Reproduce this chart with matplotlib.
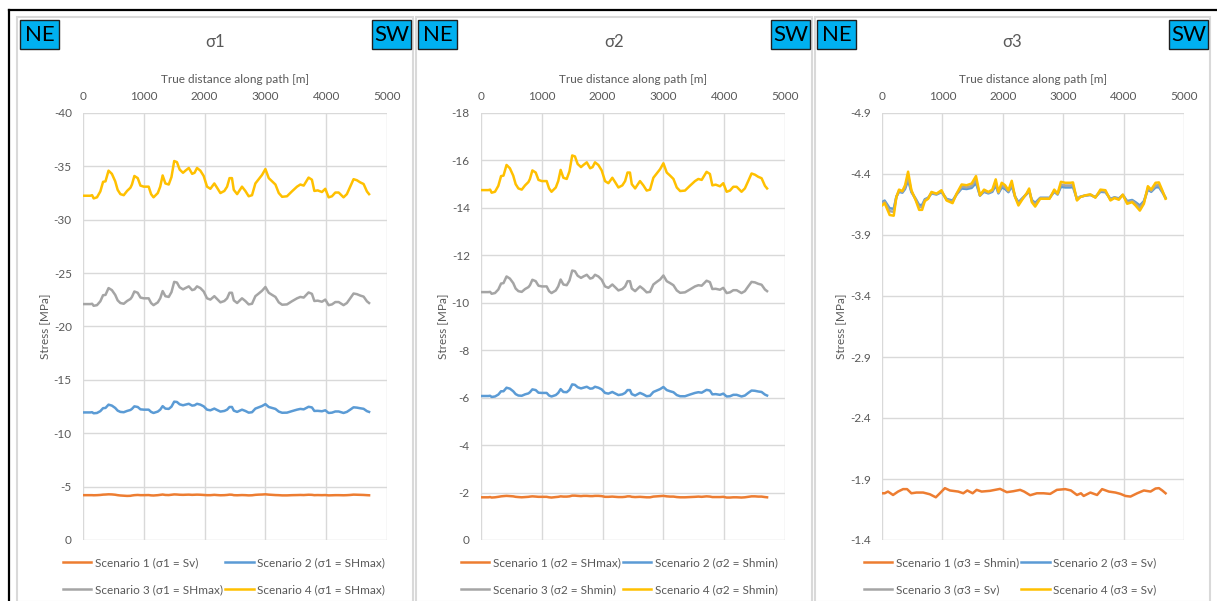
import matplotlib
matplotlib.use("Agg")
import matplotlib.pyplot as plt
from matplotlib.patches import Rectangle
from matplotlib.lines import Line2D

plt.rcParams['font.family'] = ['Lato', 'DejaVu Sans']

# ---------------- data ----------------
dist = [0,120,150,175,230,285,330,370,420,475,
        530,570,615,670,725,780,805,845,900,945,
        1000,1080,1120,1160,1230,1270,1310,1355,1410,1455,
        1500,1545,1590,1645,1685,1740,1795,1835,1875,1930,
        1985,2040,2095,2160,2205,2260,2325,2370,2410,2450,
        2480,2535,2615,2670,2725,2780,2835,2890,2945,3000,
        3055,3110,3165,3220,3275,3355,3435,3520,3575,3630,
        3710,3765,3805,3860,3930,3985,4040,4095,4150,4205,
        4285,4340,4395,4450,4505,4560,4615,4670,4705]

s1_sc1 = [-4.2,-4.2,-4.2,-4.19,-4.2,-4.22,-4.25,-4.26,-4.28,-4.27,
          -4.24,-4.2,-4.17,-4.15,-4.13,-4.14,-4.17,-4.2,-4.22,-4.2,
          -4.2,-4.21,-4.18,-4.17,-4.2,-4.23,-4.26,-4.22,-4.21,-4.24,
          -4.27,-4.26,-4.24,-4.23,-4.24,-4.25,-4.23,-4.24,-4.25,-4.24,
          -4.22,-4.2,-4.2,-4.23,-4.21,-4.19,-4.2,-4.22,-4.25,-4.24,
          -4.2,-4.19,-4.21,-4.2,-4.18,-4.19,-4.23,-4.25,-4.26,-4.28,
          -4.25,-4.23,-4.21,-4.2,-4.18,-4.18,-4.2,-4.21,-4.22,-4.21,
          -4.24,-4.23,-4.2,-4.21,-4.2,-4.21,-4.18,-4.19,-4.2,-4.2,
          -4.19,-4.2,-4.22,-4.25,-4.24,-4.23,-4.22,-4.2,-4.19]
s1_sc2 = [-11.95,-11.95,-11.97,-11.87,-11.9,-12.07,-12.35,-12.37,-12.68,-12.59,
          -12.37,-12.12,-12.0,-11.97,-12.09,-12.18,-12.28,-12.52,-12.46,-12.24,
          -12.21,-12.21,-12.0,-11.9,-12.03,-12.21,-12.54,-12.31,-12.28,-12.49,
          -12.96,-12.93,-12.71,-12.62,-12.68,-12.76,-12.59,-12.62,-12.76,-12.68,
          -12.52,-12.21,-12.15,-12.31,-12.18,-12.03,-12.09,-12.21,-12.46,-12.46,
          -12.12,-12.0,-12.21,-12.09,-11.93,-11.97,-12.31,-12.43,-12.55,-12.73,
          -12.46,-12.37,-12.28,-12.03,-11.92,-11.93,-12.07,-12.21,-12.28,-12.24,
          -12.48,-12.42,-12.09,-12.1,-12.06,-12.15,-11.9,-11.93,-12.04,-12.04,
          -11.9,-12.0,-12.21,-12.43,-12.4,-12.34,-12.29,-12.07,-12.0]
s1_sc3 = [-22.1,-22.1,-22.13,-21.94,-22.0,-22.36,-22.93,-22.96,-23.6,-23.41,
          -22.96,-22.45,-22.2,-22.13,-22.39,-22.58,-22.77,-23.28,-23.16,-22.71,
          -22.64,-22.64,-22.2,-22.0,-22.26,-22.64,-23.32,-22.84,-22.77,-23.22,
          -24.18,-24.12,-23.67,-23.48,-23.6,-23.76,-23.41,-23.48,-23.76,-23.6,
          -23.28,-22.64,-22.52,-22.84,-22.58,-22.26,-22.39,-22.64,-23.16,-23.16,
          -22.45,-22.2,-22.64,-22.39,-22.07,-22.13,-22.84,-23.09,-23.35,-23.7,
          -23.16,-22.96,-22.77,-22.26,-22.04,-22.07,-22.36,-22.64,-22.77,-22.71,
          -23.19,-23.06,-22.39,-22.42,-22.32,-22.52,-22.0,-22.07,-22.29,-22.29,
          -22.0,-22.2,-22.64,-23.09,-23.03,-22.9,-22.8,-22.36,-22.2]
s1_sc4 = [-32.25,-32.25,-32.3,-32.0,-32.1,-32.65,-33.55,-33.6,-34.6,-34.3,
          -33.6,-32.8,-32.4,-32.3,-32.7,-33.0,-33.3,-34.1,-33.9,-33.2,
          -33.1,-33.1,-32.4,-32.1,-32.5,-33.1,-34.15,-33.4,-33.3,-34.0,
          -35.5,-35.4,-34.7,-34.4,-34.6,-34.85,-34.3,-34.4,-34.85,-34.6,
          -34.1,-33.1,-32.9,-33.4,-33.0,-32.5,-32.7,-33.1,-33.9,-33.9,
          -32.8,-32.4,-33.1,-32.7,-32.2,-32.3,-33.4,-33.8,-34.2,-34.75,
          -33.9,-33.6,-33.3,-32.5,-32.15,-32.2,-32.65,-33.1,-33.3,-33.2,
          -33.95,-33.75,-32.7,-32.75,-32.6,-32.9,-32.1,-32.2,-32.55,-32.55,
          -32.1,-32.4,-33.1,-33.8,-33.7,-33.5,-33.35,-32.65,-32.4]

s2_sc1 = [-1.8,-1.8,-1.81,-1.79,-1.8,-1.82,-1.84,-1.85,-1.86,-1.85,
          -1.84,-1.82,-1.81,-1.8,-1.81,-1.82,-1.83,-1.84,-1.83,-1.82,
          -1.82,-1.82,-1.8,-1.79,-1.81,-1.82,-1.84,-1.83,-1.83,-1.84,
          -1.87,-1.87,-1.86,-1.85,-1.86,-1.86,-1.85,-1.85,-1.86,-1.86,
          -1.85,-1.82,-1.82,-1.83,-1.82,-1.81,-1.81,-1.82,-1.84,-1.84,
          -1.82,-1.81,-1.82,-1.81,-1.8,-1.8,-1.83,-1.84,-1.85,-1.86,
          -1.84,-1.83,-1.83,-1.81,-1.8,-1.8,-1.81,-1.82,-1.83,-1.82,
          -1.84,-1.83,-1.81,-1.81,-1.81,-1.82,-1.79,-1.79,-1.8,-1.8,
          -1.79,-1.8,-1.82,-1.84,-1.84,-1.83,-1.83,-1.81,-1.8]
s2_sc2 = [-6.07,-6.07,-6.08,-6.03,-6.05,-6.13,-6.27,-6.27,-6.42,-6.38,
          -6.27,-6.15,-6.09,-6.08,-6.14,-6.18,-6.23,-6.35,-6.32,-6.21,
          -6.2,-6.2,-6.09,-6.05,-6.11,-6.2,-6.36,-6.24,-6.23,-6.33,
          -6.56,-6.54,-6.44,-6.39,-6.42,-6.46,-6.38,-6.39,-6.46,-6.42,
          -6.35,-6.2,-6.17,-6.24,-6.18,-6.11,-6.14,-6.2,-6.32,-6.32,
          -6.15,-6.09,-6.2,-6.14,-6.06,-6.08,-6.24,-6.3,-6.36,-6.45,
          -6.32,-6.27,-6.23,-6.11,-6.06,-6.06,-6.13,-6.2,-6.23,-6.21,
          -6.33,-6.3,-6.14,-6.15,-6.12,-6.17,-6.05,-6.06,-6.12,-6.12,
          -6.05,-6.09,-6.2,-6.3,-6.29,-6.26,-6.24,-6.13,-6.09]
s2_sc3 = [-10.45,-10.45,-10.46,-10.38,-10.41,-10.56,-10.81,-10.83,-11.11,-11.02,
          -10.83,-10.6,-10.49,-10.46,-10.58,-10.66,-10.74,-10.97,-10.91,-10.72,
          -10.69,-10.69,-10.49,-10.41,-10.52,-10.69,-10.98,-10.77,-10.74,-10.94,
          -11.36,-11.33,-11.14,-11.05,-11.11,-11.18,-11.02,-11.05,-11.18,-11.11,
          -10.97,-10.69,-10.63,-10.77,-10.66,-10.52,-10.58,-10.69,-10.91,-10.91,
          -10.6,-10.49,-10.69,-10.58,-10.44,-10.46,-10.77,-10.88,-10.98,-11.15,
          -10.91,-10.83,-10.74,-10.52,-10.42,-10.44,-10.56,-10.69,-10.74,-10.72,
          -10.93,-10.87,-10.58,-10.59,-10.55,-10.63,-10.41,-10.44,-10.53,-10.53,
          -10.41,-10.49,-10.69,-10.88,-10.86,-10.8,-10.76,-10.56,-10.49]
s2_sc4 = [-14.75,-14.75,-14.77,-14.64,-14.68,-14.93,-15.34,-15.36,-15.81,-15.67,
          -15.36,-15.0,-14.82,-14.77,-14.95,-15.09,-15.22,-15.58,-15.49,-15.18,
          -15.13,-15.13,-14.82,-14.68,-14.86,-15.13,-15.6,-15.27,-15.22,-15.54,
          -16.21,-16.17,-15.85,-15.72,-15.81,-15.92,-15.67,-15.72,-15.92,-15.81,
          -15.58,-15.13,-15.04,-15.27,-15.09,-14.86,-14.95,-15.13,-15.49,-15.49,
          -15.0,-14.82,-15.13,-14.95,-14.73,-14.77,-15.27,-15.45,-15.63,-15.88,
          -15.49,-15.36,-15.22,-14.86,-14.71,-14.73,-14.93,-15.13,-15.22,-15.18,
          -15.52,-15.43,-14.95,-14.98,-14.91,-15.04,-14.68,-14.73,-14.89,-14.89,
          -14.68,-14.82,-15.13,-15.45,-15.4,-15.31,-15.25,-14.93,-14.82]

dist3 = [0,44,127,194,238,282,338,382,432,487,
         559,615,664,709,764,819,902,985,1069,1168,
         1235,1318,1401,1484,1556,1622,1689,1761,1827,1883,
         1927,1982,2038,2093,2148,2204,2259,2331,2397,2436,
         2481,2536,2619,2702,2774,2852,2907,2962,3034,3117,
         3162,3228,3283,3367,3450,3533,3616,3699,3782,3849,
         3921,3987,4059,4142,4197,4269,4336,4402,4457,4529,
         4585,4640,4695]
s3_sc2 = [-4.169,-4.182,-4.119,-4.115,-4.214,-4.254,-4.247,-4.277,-4.349,-4.251,
          -4.196,-4.146,-4.146,-4.193,-4.205,-4.241,-4.232,-4.251,-4.196,-4.182,
          -4.232,-4.281,-4.277,-4.286,-4.326,-4.223,-4.254,-4.241,-4.254,-4.308,
          -4.241,-4.290,-4.277,-4.251,-4.301,-4.214,-4.169,-4.205,-4.236,-4.260,
          -4.187,-4.163,-4.205,-4.205,-4.205,-4.254,-4.232,-4.295,-4.290,-4.290,
          -4.292,-4.196,-4.214,-4.223,-4.228,-4.211,-4.254,-4.251,-4.196,-4.209,
          -4.200,-4.227,-4.178,-4.187,-4.169,-4.142,-4.178,-4.272,-4.254,-4.290,
          -4.292,-4.251,-4.205]
s3_sc3 = [-4.158,-4.173,-4.095,-4.090,-4.213,-4.262,-4.253,-4.290,-4.379,-4.258,
          -4.190,-4.129,-4.129,-4.186,-4.202,-4.246,-4.235,-4.258,-4.190,-4.173,
          -4.235,-4.295,-4.290,-4.302,-4.350,-4.224,-4.262,-4.246,-4.262,-4.329,
          -4.246,-4.306,-4.290,-4.258,-4.319,-4.213,-4.158,-4.202,-4.239,-4.269,
          -4.179,-4.150,-4.202,-4.202,-4.202,-4.262,-4.235,-4.313,-4.306,-4.306,
          -4.309,-4.190,-4.213,-4.224,-4.230,-4.209,-4.262,-4.258,-4.190,-4.206,
          -4.195,-4.229,-4.169,-4.179,-4.158,-4.124,-4.169,-4.284,-4.262,-4.306,
          -4.309,-4.258,-4.202]
s3_sc4 = [-4.142,-4.161,-4.064,-4.058,-4.211,-4.272,-4.261,-4.308,-4.419,-4.267,
          -4.183,-4.106,-4.106,-4.178,-4.197,-4.253,-4.239,-4.267,-4.183,-4.161,
          -4.239,-4.314,-4.308,-4.322,-4.383,-4.225,-4.272,-4.253,-4.272,-4.356,
          -4.253,-4.328,-4.308,-4.267,-4.344,-4.211,-4.142,-4.197,-4.244,-4.281,
          -4.169,-4.133,-4.197,-4.197,-4.197,-4.272,-4.239,-4.336,-4.328,-4.328,
          -4.331,-4.183,-4.211,-4.225,-4.233,-4.206,-4.272,-4.267,-4.183,-4.203,
          -4.189,-4.231,-4.156,-4.169,-4.142,-4.100,-4.156,-4.300,-4.272,-4.328,
          -4.331,-4.267,-4.197]
dist3o = [0,44,99,183,266,349,415,487,570,681,
          792,891,958,1041,1124,1262,1346,1412,1501,1567,
          1650,1788,1955,2066,2176,2287,2353,2453,2564,2674,
          2785,2896,3034,3128,3228,3294,3339,3450,3561,3644,
          3755,3865,3948,4031,4114,4225,4336,4446,4529,4585,
          4640,4695]
s3_sc1 = [-1.783,-1.783,-1.797,-1.769,-1.797,-1.817,-1.817,-1.783,-1.789,-1.789,
          -1.775,-1.750,-1.783,-1.825,-1.806,-1.797,-1.783,-1.806,-1.783,-1.811,
          -1.797,-1.803,-1.819,-1.792,-1.800,-1.811,-1.797,-1.767,-1.783,-1.783,
          -1.778,-1.811,-1.817,-1.806,-1.769,-1.783,-1.761,-1.789,-1.769,-1.817,
          -1.797,-1.789,-1.778,-1.761,-1.756,-1.783,-1.806,-1.797,-1.822,-1.825,
          -1.806,-1.783]

titles = ["σ1", "σ2", "σ3"]
legend_labels = [
    ["Scenario 1 (σ1 = Sv)", "Scenario 2 (σ1 = SHmax)", "Scenario 3 (σ1 = SHmax)", "Scenario 4 (σ1 = SHmax)"],
    ["Scenario 1 (σ2 = SHmax)", "Scenario 2 (σ2 = Shmin)", "Scenario 3 (σ2 = Shmin)", "Scenario 4 (σ2 = Shmin)"],
    ["Scenario 1 (σ3 = Shmin)", "Scenario 2 (σ3 = Sv)", "Scenario 3 (σ3 = Sv)", "Scenario 4 (σ3 = Sv)"],
]
x_ticks = [0, 1000, 2000, 3000, 4000, 5000]
y_ticks = [
    [0, -5, -10, -15, -20, -25, -30, -35, -40],
    [0, -2, -4, -6, -8, -10, -12, -14, -16, -18],
    [-1.4, -1.9, -2.4, -2.9, -3.4, -3.9, -4.4, -4.9],
]
y_ticklabels = [
    ["0", "-5", "-10", "-15", "-20", "-25", "-30", "-35", "-40"],
    ["0", "-2", "-4", "-6", "-8", "-10", "-12", "-14", "-16", "-18"],
    ["-1.4", "-1.9", "-2.4", "-2.9", "-3.4", "-3.9", "-4.4", "-4.9"],
]

colors = ["#ED7D31", "#5B9BD5", "#A5A5A5", "#FFC000"]
TXT = "#595959"
GRID = "#D9D9D9"

W, H = 1217, 601
fig = plt.figure(figsize=(W / 100, H / 100), dpi=100)
fig.patch.set_facecolor("white")

def fx(px):
    return px / W

def fy(py):
    return 1 - py / H

# outer black frame (top and left)
fig.add_artist(Line2D([fx(9), 1.0], [fy(10), fy(10)], color="black", lw=1.6))
fig.add_artist(Line2D([fx(9), fx(9)], [fy(10), 0.0], color="black", lw=1.6))

panel_left = [17, 416, 815]
panel_right = [413, 812, 1210]
plot_left = [83, 481, 882]
plot_w = [304, 304, 302]
ne_x = [20, 418, 817]
sw_x = [372, 771, 1169]
legend_x = [63, 461, 864]

series_data = [
    [(dist, s1_sc1), (dist, s1_sc2), (dist, s1_sc3), (dist, s1_sc4)],
    [(dist, s2_sc1), (dist, s2_sc2), (dist, s2_sc3), (dist, s2_sc4)],
    [(dist3o, s3_sc1), (dist3, s3_sc2), (dist3, s3_sc3), (dist3, s3_sc4)],
]
ylims = [(0, -40), (0, -18), (-1.4, -4.9)]

for i in range(3):
    # panel border
    fig.add_artist(Rectangle((fx(panel_left[i]), fy(602)),
                             fx(panel_right[i] - panel_left[i]), (602 - 17) / H,
                             transform=fig.transFigure, facecolor="none",
                             edgecolor=GRID, lw=1.5))
    # NE / SW tags
    for bx, lab in ((ne_x[i], "NE"), (sw_x[i], "SW")):
        fig.add_artist(Rectangle((fx(bx), fy(49)), fx(39), 29 / H,
                                 transform=fig.transFigure, facecolor="#00B0F0",
                                 edgecolor="#1F1F1F", lw=1.0))
        fig.text(fx(bx + 19.5), fy(35), lab, ha="center", va="center",
                 fontsize=16, color="black")
    # title
    fig.text(fx((panel_left[i] + panel_right[i]) / 2), fy(42), titles[i],
             ha="center", va="center", fontsize=12, color=TXT)

    ax = fig.add_axes([fx(plot_left[i]), fy(540), fx(plot_w[i]), 427 / H])
    for k, (xs, ys) in enumerate(series_data[i]):
        ax.plot(xs, ys, color=colors[k], lw=1.8, label=legend_labels[i][k],
                solid_joinstyle="round", zorder=3 + k)
    ax.set_xlim(0, 5000)
    ax.set_ylim(*ylims[i])
    ax.set_xticks(x_ticks)
    ax.set_xticklabels([str(t) for t in x_ticks])
    ax.set_yticks(y_ticks[i])
    ax.set_yticklabels(y_ticklabels[i])
    ax.xaxis.tick_top()
    ax.xaxis.set_label_position("top")
    ax.set_xlabel("True distance along path [m]", fontsize=8.5, color=TXT, labelpad=6)
    ax.set_ylabel("Stress [MPa]", fontsize=8.5, color=TXT, labelpad=2)
    ax.tick_params(axis="both", length=0, labelsize=8.5, labelcolor=TXT, pad=8)
    for sp in ax.spines.values():
        sp.set_visible(False)
    ax.grid(True, color=GRID, lw=1.0, zorder=0)
    ax.set_axisbelow(True)

    handles, labels = ax.get_legend_handles_labels()
    order = [0, 2, 1, 3]
    leg = fig.legend([handles[j] for j in order], [labels[j] for j in order],
                     ncol=2, loc="upper left",
                     bbox_to_anchor=(fx(legend_x[i]), fy(557)), frameon=False,
                     fontsize=8.5, handlelength=2.4, handletextpad=0.3,
                     columnspacing=0.2, labelspacing=1.4, borderaxespad=0,
                     borderpad=0)
    for t in leg.get_texts():
        t.set_color(TXT)

fig.savefig("out.png", dpi=100, facecolor="white")
